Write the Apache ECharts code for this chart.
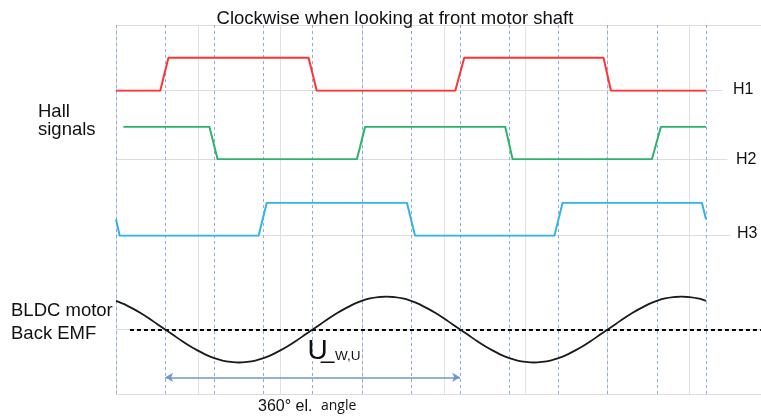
<!DOCTYPE html>
<html>
<head>
<meta charset="utf-8">
<script src="https://cdn.jsdelivr.net/npm/echarts@6/dist/echarts.min.js"></script>
<style>
html,body{margin:0;padding:0;background:#fff;}
#chart{width:761px;height:419px;}
</style>
</head>
<body>
<div id="chart"></div>
<script>
// ---- data (electrical angle in degrees) ----
const phaseTicks = [0, 60, 120, 180, 240, 300, 360, 420, 480, 540, 600, 660, 720];
const h1Deg = [0, 54, 64, 235, 245, 414, 425, 595, 604, 720];
const h1Val = [0, 0, 1, 1, 0, 0, 1, 1, 0, 0];
const h2Deg = [9, 114, 124, 294, 304, 475, 484, 654, 665, 720];
const h2Val = [1, 1, 0, 0, 1, 1, 0, 0, 1, 1];
const h3Deg = [0, 4.5, 174, 184, 355, 365, 535, 545, 715, 720];
const h3Val = [0.5, 0, 0, 1, 1, 0, 0, 1, 1, 0.5];
const emfDeg = [0, 10, 20, 30, 40, 50, 60, 70, 80, 90, 100, 110, 120, 130, 140, 150, 160, 170, 180,
                190, 200, 210, 220, 230, 240, 250, 260, 270, 280, 290, 300, 310, 320, 330, 340, 350, 360,
                370, 380, 390, 400, 410, 420, 430, 440, 450, 460, 470, 480, 490, 500, 510, 520, 530, 540,
                550, 560, 570, 580, 590, 600, 610, 620, 630, 640, 650, 660, 670, 680, 690, 700, 710, 720];
const emfVal = [0.87, 0.77, 0.64, 0.5, 0.34, 0.17, 0, -0.17, -0.34, -0.5, -0.64, -0.77, -0.87, -0.94, -0.98, -1, -0.98, -0.94, -0.87,
                -0.77, -0.64, -0.5, -0.34, -0.17, 0, 0.17, 0.34, 0.5, 0.64, 0.77, 0.87, 0.94, 0.98, 1, 0.98, 0.94, 0.87,
                0.77, 0.64, 0.5, 0.34, 0.17, 0, -0.17, -0.34, -0.5, -0.64, -0.77, -0.87, -0.94, -0.98, -1, -0.98, -0.94, -0.87,
                -0.77, -0.64, -0.5, -0.34, -0.17, 0, 0.17, 0.34, 0.5, 0.64, 0.77, 0.87, 0.94, 0.98, 1, 0.98, 0.94, 0.87];
const emfZeroLine = [17, 787];     // dashed reference line extent (deg)
const angleSpan = [60, 420];       // 360° el. angle arrow
const arrowLevel = -1.45;
const signalLabels = ['H1', 'H2', 'H3'];

const zip = (xs, ys) => xs.map((x, i) => [x, ys[i]]);

const pxPerDeg = (706 - 116) / 720;
const gridLeft = 116;
const gray = '#dcdcdc';
const FONT = '"Liberation Sans", Arial, sans-serif';

function hiddenX(idx, max, showLine) {
  return {
    type: 'value', gridIndex: idx, min: 0, max: max,
    axisLabel: {show: false}, axisTick: {show: false}, splitLine: {show: false},
    axisLine: {show: !!showLine, onZero: true, lineStyle: {color: gray, width: 1}}
  };
}
function hiddenY(idx, min, max) {
  return {
    type: 'value', gridIndex: idx, min: min, max: max,
    axisLabel: {show: false}, axisTick: {show: false}, splitLine: {show: false}, axisLine: {show: false}
  };
}

const grids = [
  {left: gridLeft, top: 25, width: 645, height: 369},          // background
  {left: gridLeft, top: 25, width: 606, height: 65.7},         // H1
  {left: gridLeft, top: 126.7, width: 611, height: 32.6},      // H2
  {left: gridLeft, top: 202.7, width: 614, height: 33},        // H3
  {left: gridLeft, top: 296.5, width: 645, height: 99}         // Back EMF
];

const xAxes = [
  {
    type: 'value', gridIndex: 0, min: 0, max: 645 / pxPerDeg, interval: 100,
    axisLabel: {show: false}, axisTick: {show: false}, axisLine: {show: false},
    splitLine: {show: true, lineStyle: {color: '#e2e2e2', width: 1}}
  },
  hiddenX(1, 606 / pxPerDeg, true),
  hiddenX(2, 611 / pxPerDeg, true),
  hiddenX(3, 614 / pxPerDeg, true),
  hiddenX(4, 645 / pxPerDeg, true)
];
const yAxes = [
  {
    type: 'value', gridIndex: 0, min: 0, max: 1, interval: 1,
    axisLabel: {show: false}, axisTick: {show: false}, axisLine: {show: false},
    splitLine: {show: true, lineStyle: {color: gray, width: 1}}
  },
  hiddenY(1, 0, 2),
  hiddenY(2, 0, 1),
  hiddenY(3, 0, 1),
  hiddenY(4, -2, 1)
];

function sigSeries(name, idx, data, color) {
  return {
    name: name, type: 'line', xAxisIndex: idx, yAxisIndex: idx, data: data,
    showSymbol: false, symbol: 'none', z: 5, silent: true,
    lineStyle: {color: color, width: 2}
  };
}

const option = {
  animation: false,
  backgroundColor: '#fff',
  grid: grids,
  xAxis: xAxes,
  yAxis: yAxes,
  series: [
    {
      name: 'phase', type: 'line', xAxisIndex: 0, yAxisIndex: 0, data: [], z: 1, silent: true,
      markLine: {
        silent: true, symbol: 'none', label: {show: false},
        lineStyle: {color: '#8eaade', width: 1, type: [3, 3]},
        data: phaseTicks.map(v => ({xAxis: v}))
      }
    },
    sigSeries('H1', 1, zip(h1Deg, h1Val), '#ff3333'),
    sigSeries('H2', 2, zip(h2Deg, h2Val), '#2db36c'),
    sigSeries('H3', 3, zip(h3Deg, h3Val), '#30b4ea'),
    {
      name: 'Back EMF', type: 'line', xAxisIndex: 4, yAxisIndex: 4, data: zip(emfDeg, emfVal),
      smooth: 0.3, showSymbol: false, symbol: 'none', z: 5, silent: true,
      lineStyle: {color: '#1a1a1a', width: 1.8},
      markLine: {
        silent: true, label: {show: false}, animation: false,
        data: [
          [
            {coord: [emfZeroLine[0], 0], symbol: 'none', lineStyle: {color: '#000', width: 2, type: [4, 3]}},
            {coord: [emfZeroLine[1], 0], symbol: 'none'}
          ],
          [
            {coord: [angleSpan[0], arrowLevel], symbol: 'arrow', symbolSize: [7, 8], lineStyle: {color: '#7096d6', width: 1.5, type: 'solid'}},
            {coord: [angleSpan[1], arrowLevel], symbol: 'arrow', symbolSize: [7, 8]}
          ]
        ]
      }
    }
  ],
  graphic: [
    {type: 'text', z: 10, style: {text: 'Clockwise when looking at front motor shaft', x: 395, y: 18.5, align: 'center', verticalAlign: 'middle', font: '18.5px ' + FONT, fill: '#111'}},
    {type: 'text', z: 10, style: {text: 'Hall', x: 38, y: 111.8, align: 'left', verticalAlign: 'middle', font: '18.5px ' + FONT, fill: '#111'}},
    {type: 'text', z: 10, style: {text: 'signals', x: 38, y: 130, align: 'left', verticalAlign: 'middle', font: '18.5px ' + FONT, fill: '#111'}},
    {type: 'text', z: 10, style: {text: 'BLDC motor', x: 11, y: 310.8, align: 'left', verticalAlign: 'middle', font: '18.5px ' + FONT, fill: '#111'}},
    {type: 'text', z: 10, style: {text: 'Back EMF', x: 11, y: 333.5, align: 'left', verticalAlign: 'middle', font: '18.5px ' + FONT, fill: '#111'}},
    {type: 'text', z: 10, style: {text: signalLabels[0], x: 733, y: 90, align: 'left', verticalAlign: 'middle', font: '16px ' + FONT, fill: '#111'}},
    {type: 'text', z: 10, style: {text: signalLabels[1], x: 736, y: 159.5, align: 'left', verticalAlign: 'middle', font: '16px ' + FONT, fill: '#111'}},
    {type: 'text', z: 10, style: {text: signalLabels[2], x: 737, y: 234, align: 'left', verticalAlign: 'middle', font: '16px ' + FONT, fill: '#111'}},
    {type: 'text', z: 10, style: {text: 'U', x: 307.5, y: 351, align: 'left', verticalAlign: 'middle', font: '28px "Liberation Sans Narrow", "Liberation Sans", sans-serif', fill: '#111'}},
    {type: 'text', z: 10, style: {text: '_', x: 321, y: 351, align: 'left', verticalAlign: 'middle', font: '24px ' + FONT, fill: '#111'}},
    {type: 'text', z: 10, style: {text: 'W,U', x: 335, y: 356, align: 'left', verticalAlign: 'middle', font: '13.5px ' + FONT, fill: '#111'}},
    {type: 'text', z: 10, style: {text: '360° el.', x: 258, y: 407, align: 'left', verticalAlign: 'middle', font: '16px ' + FONT, fill: '#111'}},
    {type: 'text', z: 10, style: {text: 'angle', x: 321, y: 406.5, align: 'left', verticalAlign: 'middle', font: '14px "Open Sans", ' + FONT, fill: '#111'}}
  ]
};

const chart = echarts.init(document.getElementById('chart'), null, {renderer: 'canvas'});
chart.setOption(option);
</script>
</body>
</html>
